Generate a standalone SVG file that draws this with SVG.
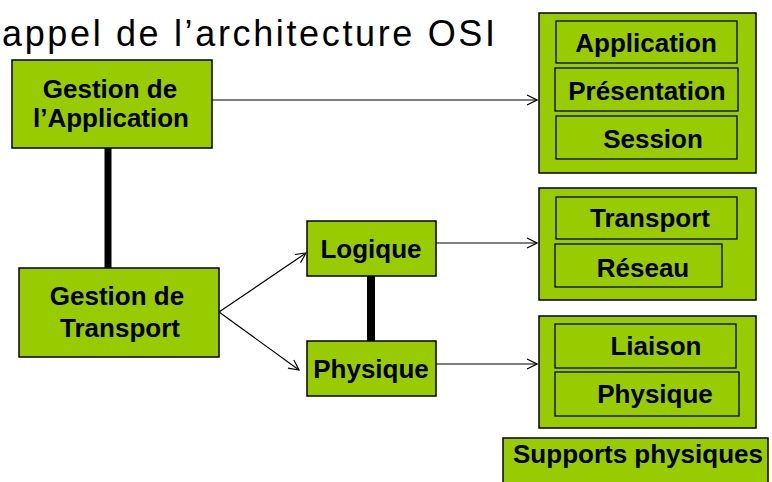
<svg xmlns="http://www.w3.org/2000/svg" width="772" height="482" viewBox="0 0 772 482">
  <style>
    .box { fill: #99cc00; stroke: #000; stroke-width: 1.5; }
    .inner { fill: #99cc00; stroke: #000; stroke-width: 1.3; }
    .lbl { font-family: "Liberation Sans", Arial, sans-serif; font-weight: bold; font-size: 26px; fill: #000; text-anchor: middle; }
    .arrow { stroke: #000; stroke-width: 1.2; fill: none; marker-end: url(#open); }
    .bar { stroke: #000; fill: none; }
  </style>
  <defs>
    <marker id="open" viewBox="0 0 12 12" refX="11" refY="6" markerWidth="12" markerHeight="12" markerUnits="userSpaceOnUse" orient="auto">
      <path d="M1,1 L11,6 L1,11" fill="none" stroke="#000" stroke-width="1.2"/>
    </marker>
  </defs>
  <rect width="772" height="482" fill="#fff"/>

  <text x="2" y="46" textLength="493" lengthAdjust="spacing" font-family="'Liberation Sans', Arial, sans-serif" font-size="36" fill="#000">appel de l’architecture OSI</text>

  <g id="connectors">
    <line class="bar" x1="108" y1="148" x2="108" y2="268" stroke-width="7"/>
    <line class="bar" x1="371" y1="276" x2="371" y2="341" stroke-width="8"/>
    <line class="arrow" x1="212" y1="100" x2="537" y2="100"/>
    <line class="arrow" x1="436" y1="243" x2="537" y2="243"/>
    <line class="arrow" x1="436" y1="364" x2="537" y2="364"/>
    <line class="arrow" x1="219" y1="312" x2="306" y2="253"/>
    <line class="arrow" x1="219" y1="312" x2="299" y2="370"/>
  </g>

  <g id="gestion-application">
    <rect class="box" x="12" y="60" width="200" height="88"/>
    <text class="lbl" x="110" y="98">Gestion de</text>
    <text class="lbl" x="111" y="127">l’Application</text>
  </g>

  <g id="gestion-transport">
    <rect class="box" x="19" y="268" width="200" height="89"/>
    <text class="lbl" x="117" y="305">Gestion de</text>
    <text class="lbl" x="120" y="337">Transport</text>
  </g>

  <g id="logique">
    <rect class="box" x="307" y="221" width="129" height="55"/>
    <text class="lbl" x="371" y="258">Logique</text>
  </g>

  <g id="physique">
    <rect class="box" x="307" y="341" width="129" height="55"/>
    <text class="lbl" x="371" y="378">Physique</text>
  </g>

  <g id="couches-hautes">
    <rect class="box" x="539" y="13" width="217" height="160"/>
    <rect class="inner" x="556" y="21" width="181" height="42"/>
    <text class="lbl" x="646" y="52">Application</text>
    <rect class="inner" x="555" y="68" width="183" height="43"/>
    <text class="lbl" x="647" y="100">Présentation</text>
    <rect class="inner" x="556" y="116" width="181" height="43"/>
    <text class="lbl" x="653" y="148">Session</text>
  </g>

  <g id="couches-transport">
    <rect class="box" x="539" y="188" width="217" height="112"/>
    <rect class="inner" x="556" y="197" width="181" height="42"/>
    <text class="lbl" x="650" y="227">Transport</text>
    <rect class="inner" x="555" y="244" width="167" height="43"/>
    <text class="lbl" x="643" y="277">Réseau</text>
  </g>

  <g id="couches-basses">
    <rect class="box" x="539" y="316" width="217" height="112"/>
    <rect class="inner" x="555" y="324" width="181" height="44"/>
    <text class="lbl" x="656" y="355">Liaison</text>
    <rect class="inner" x="555" y="372" width="184" height="44"/>
    <text class="lbl" x="655" y="403">Physique</text>
  </g>

  <g id="supports-physiques">
    <rect class="box" x="503" y="438" width="265" height="52"/>
    <text class="lbl" x="638" y="463">Supports physiques</text>
  </g>
</svg>
